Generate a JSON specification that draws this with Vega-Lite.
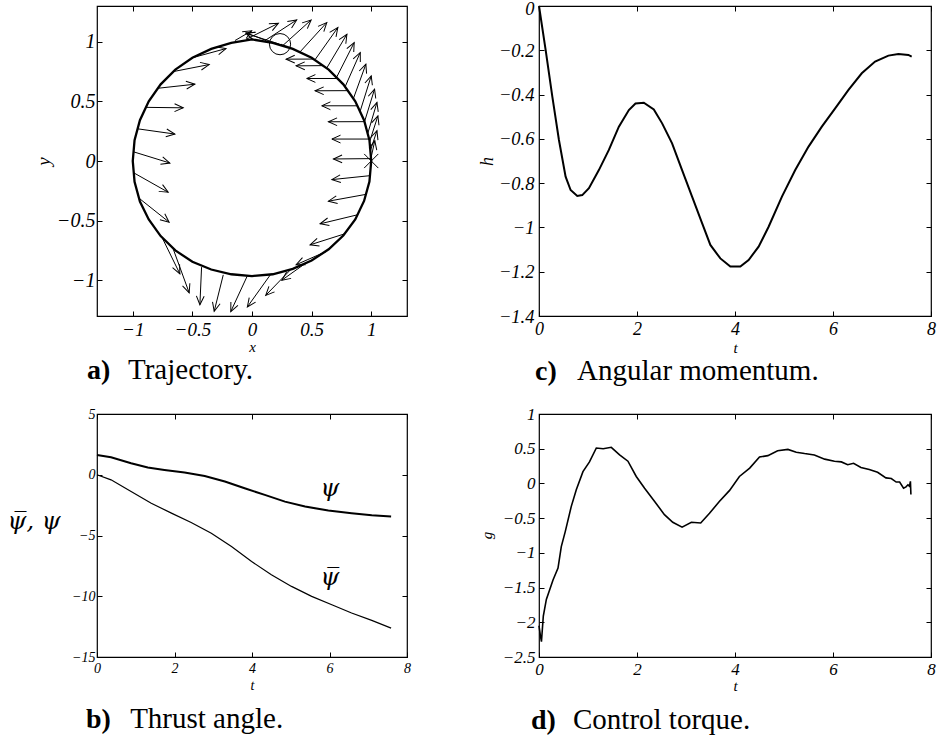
{
"$schema": "https://vega.github.io/schema/vega-lite/v6.json",
"autosize": {"type": "none"},
"padding": {"left": 97, "top": 6, "right": 841, "bottom": 730},
"background": "white",
"config": {
  "font": "Liberation Serif",
  "view": {"stroke": "black", "strokeWidth": 1.2},
  "axis": {"domain": false, "grid": false, "ticks": true, "tickSize": -5, "tickColor": "black", "tickWidth": 1,
    "labelFont": "Liberation Serif", "labelFontStyle": "italic", "labelColor": "black", "labelFlush": false, "labelOverlap": false, "labelBound": false,
    "titleFont": "Liberation Serif", "titleFontStyle": "italic", "titleFontWeight": "normal", "titleColor": "black", "titlePadding": 0},
  "text": {"font": "Liberation Serif", "color": "black"}
},
"datasets": {
  "traj": [
    {"i":0,"x":1.0,"y":0.0},{"i":1,"x":0.985,"y":0.174},{"i":2,"x":0.94,"y":0.342},{"i":3,"x":0.866,"y":0.5},{"i":4,"x":0.766,"y":0.643},{"i":5,"x":0.643,"y":0.766},{"i":6,"x":0.5,"y":0.866},{"i":7,"x":0.342,"y":0.94},{"i":8,"x":0.174,"y":0.99},{"i":9,"x":0.0,"y":1.02},
    {"i":10,"x":-0.174,"y":0.99},{"i":11,"x":-0.342,"y":0.94},{"i":12,"x":-0.5,"y":0.866},{"i":13,"x":-0.643,"y":0.766},{"i":14,"x":-0.766,"y":0.643},{"i":15,"x":-0.866,"y":0.5},{"i":16,"x":-0.94,"y":0.342},{"i":17,"x":-0.985,"y":0.174},{"i":18,"x":-1.0,"y":0.0},
    {"i":19,"x":-0.985,"y":-0.174},{"i":20,"x":-0.94,"y":-0.34},{"i":21,"x":-0.866,"y":-0.49},{"i":22,"x":-0.766,"y":-0.63},{"i":23,"x":-0.643,"y":-0.75},{"i":24,"x":-0.5,"y":-0.845},{"i":25,"x":-0.342,"y":-0.91},{"i":26,"x":-0.174,"y":-0.95},{"i":27,"x":0.0,"y":-0.965},
    {"i":28,"x":0.174,"y":-0.95},{"i":29,"x":0.342,"y":-0.905},{"i":30,"x":0.5,"y":-0.835},{"i":31,"x":0.643,"y":-0.74},{"i":32,"x":0.766,"y":-0.625},{"i":33,"x":0.866,"y":-0.49},{"i":34,"x":0.94,"y":-0.335},{"i":35,"x":0.985,"y":-0.172},{"i":36,"x":1.0,"y":0.0},
    {"i":37,"x":0.985,"y":0.174},{"i":38,"x":0.94,"y":0.342},{"i":39,"x":0.866,"y":0.5},{"i":40,"x":0.766,"y":0.643},{"i":41,"x":0.643,"y":0.766},{"i":42,"x":0.5,"y":0.866},{"i":43,"x":0.342,"y":0.94},{"i":44,"x":0.24,"y":0.975}
  ],
  "arrows": [
    {"x":-0.5,"y":0.866,"x2":-0.218,"y2":0.943},{"x":-0.66,"y":0.75,"x2":-0.359,"y2":0.809},{"x":-0.79,"y":0.61,"x2":-0.479,"y2":0.644},{"x":-0.89,"y":0.45,"x2":-0.577,"y2":0.446},
    {"x":-0.96,"y":0.27,"x2":-0.647,"y2":0.226},{"x":-0.997,"y":0.078,"x2":-0.689,"y2":-0.017},{"x":-0.99,"y":-0.1,"x2":-0.703,"y2":-0.262},{"x":-0.95,"y":-0.31,"x2":-0.695,"y2":-0.513},
    {"x":-0.76,"y":-0.63,"x2":-0.605,"y2":-0.946},{"x":-0.66,"y":-0.74,"x2":-0.527,"y2":-1.105},{"x":-0.423,"y":-0.89,"x2":-0.437,"y2":-1.205},{"x":-0.241,"y":-0.955,"x2":-0.317,"y2":-1.26},
    {"x":-0.04,"y":-0.965,"x2":-0.178,"y2":-1.263},{"x":0.157,"y":-0.95,"x2":-0.039,"y2":-1.224},{"x":0.32,"y":-0.915,"x2":0.115,"y2":-1.127},{"x":0.46,"y":-0.85,"x2":0.25,"y2":-1.0},
    {"x":0.62,"y":-0.76,"x2":0.37,"y2":-0.87},{"x":0.78,"y":-0.61,"x2":0.487,"y2":-0.703},{"x":0.89,"y":-0.45,"x2":0.571,"y2":-0.527},{"x":0.955,"y":-0.28,"x2":0.641,"y2":-0.337},
    {"x":0.99,"y":-0.123,"x2":0.67,"y2":-0.156},{"x":1.0,"y":0.02,"x2":0.683,"y2":0.017},{"x":0.983,"y":0.184,"x2":0.67,"y2":0.184},{"x":0.944,"y":0.33,"x2":0.641,"y2":0.329},
    {"x":0.886,"y":0.463,"x2":0.585,"y2":0.463},{"x":0.808,"y":0.59,"x2":0.529,"y2":0.589},{"x":0.722,"y":0.692,"x2":0.459,"y2":0.692},{"x":0.603,"y":0.8,"x2":0.37,"y2":0.798},{"x":0.52,"y":0.855,"x2":0.286,"y2":0.854},
    {"x":-0.143,"y":1.01,"x2":-0.003,"y2":1.092},{"x":-0.05,"y":1.02,"x2":0.221,"y2":1.155},{"x":0.109,"y":1.01,"x2":0.375,"y2":1.183},{"x":0.26,"y":0.97,"x2":0.496,"y2":1.183},
    {"x":0.403,"y":0.915,"x2":0.627,"y2":1.161},{"x":0.529,"y":0.85,"x2":0.72,"y2":1.119},{"x":0.627,"y":0.78,"x2":0.796,"y2":1.063},{"x":0.711,"y":0.705,"x2":0.857,"y2":0.993},
    {"x":0.782,"y":0.625,"x2":0.908,"y2":0.91},{"x":0.851,"y":0.525,"x2":0.955,"y2":0.812},{"x":0.908,"y":0.42,"x2":1.0,"y2":0.714},{"x":0.944,"y":0.33,"x2":1.028,"y2":0.603},
    {"x":0.972,"y":0.235,"x2":1.048,"y2":0.491},{"x":0.986,"y":0.16,"x2":1.056,"y2":0.379},{"x":0.994,"y":0.09,"x2":1.048,"y2":0.254},{"x":0.999,"y":0.03,"x2":1.03,"y2":0.17},
    {"x":0.23,"y":0.98,"x2":-0.05,"y2":1.07},{"x":0.12,"y":1.01,"x2":-0.05,"y2":1.075}
  ],
  "h": [
    {"t":0,"h":0},{"t":0.136,"h":-0.199},{"t":0.272,"h":-0.409},{"t":0.407,"h":-0.605},{"t":0.543,"h":-0.771},{"t":0.645,"h":-0.831},{"t":0.781,"h":-0.858},{"t":0.883,"h":-0.854},
    {"t":1.019,"h":-0.823},{"t":1.222,"h":-0.741},{"t":1.426,"h":-0.65},{"t":1.63,"h":-0.545},{"t":1.834,"h":-0.47},{"t":1.969,"h":-0.44},{"t":2.139,"h":-0.437},{"t":2.343,"h":-0.467},
    {"t":2.513,"h":-0.53},{"t":2.716,"h":-0.62},{"t":2.92,"h":-0.741},{"t":3.124,"h":-0.861},{"t":3.328,"h":-0.981},{"t":3.497,"h":-1.079},{"t":3.701,"h":-1.14},{"t":3.905,"h":-1.177},
    {"t":4.109,"h":-1.177},{"t":4.278,"h":-1.147},{"t":4.482,"h":-1.087},{"t":4.686,"h":-0.997},{"t":4.958,"h":-0.861},{"t":5.229,"h":-0.741},{"t":5.501,"h":-0.635},{"t":5.772,"h":-0.545},
    {"t":6.044,"h":-0.462},{"t":6.316,"h":-0.379},{"t":6.587,"h":-0.304},{"t":6.859,"h":-0.251},{"t":7.131,"h":-0.224},{"t":7.335,"h":-0.217},{"t":7.538,"h":-0.221},{"t":7.606,"h":-0.229}
  ],
  "psi": [
    {"t":0,"v":1.63},{"t":0.362,"v":1.44},{"t":0.88,"v":0.95},{"t":1.31,"v":0.59},{"t":1.74,"v":0.4},{"t":2.26,"v":0.18},{"t":2.78,"v":-0.1},{"t":3.3,"v":-0.56},
    {"t":3.81,"v":-1.11},{"t":4.33,"v":-1.66},{"t":4.85,"v":-2.21},{"t":5.37,"v":-2.62},{"t":5.97,"v":-2.95},{"t":6.57,"v":-3.16},{"t":7.09,"v":-3.33},{"t":7.59,"v":-3.44}
  ],
  "psibar": [
    {"t":0,"v":0},{"t":0.362,"v":-0.42},{"t":0.88,"v":-1.38},{"t":1.4,"v":-2.34},{"t":1.92,"v":-3.16},{"t":2.43,"v":-3.93},{"t":2.95,"v":-4.81},{"t":3.47,"v":-5.9},
    {"t":3.99,"v":-7.14},{"t":4.5,"v":-8.23},{"t":5.02,"v":-9.19},{"t":5.54,"v":-10.01},{"t":6.06,"v":-10.7},{"t":6.57,"v":-11.38},{"t":7.09,"v":-11.99},{"t":7.59,"v":-12.62}
  ],
  "g": [
    {"t":0,"g":-2.05},{"t":0.03,"g":-2.2},{"t":0.05,"g":-2.28},{"t":0.088,"g":-1.91},{"t":0.15,"g":-1.67},{"t":0.286,"g":-1.39},{"t":0.388,"g":-1.22},{"t":0.455,"g":-0.91},
    {"t":0.537,"g":-0.69},{"t":0.659,"g":-0.33},{"t":0.761,"g":-0.09},{"t":0.897,"g":0.17},{"t":1.03,"g":0.31},{"t":1.17,"g":0.51},{"t":1.31,"g":0.5},{"t":1.475,"g":0.52},
    {"t":1.645,"g":0.41},{"t":1.815,"g":0.32},{"t":1.985,"g":0.1},{"t":2.155,"g":-0.07},{"t":2.36,"g":-0.26},{"t":2.56,"g":-0.45},{"t":2.73,"g":-0.56},{"t":2.92,"g":-0.63},
    {"t":3.11,"g":-0.56},{"t":3.3,"g":-0.57},{"t":3.48,"g":-0.43},{"t":3.68,"g":-0.26},{"t":3.89,"g":-0.1},{"t":4.09,"g":0.1},{"t":4.3,"g":0.22},{"t":4.5,"g":0.38},
    {"t":4.67,"g":0.4},{"t":4.87,"g":0.47},{"t":5.08,"g":0.49},{"t":5.25,"g":0.45},{"t":5.42,"g":0.43},{"t":5.62,"g":0.41},{"t":5.83,"g":0.35},{"t":6.03,"g":0.32},
    {"t":6.17,"g":0.31},{"t":6.3,"g":0.27},{"t":6.42,"g":0.29},{"t":6.57,"g":0.23},{"t":6.74,"g":0.2},{"t":6.91,"g":0.16},{"t":7.08,"g":0.08},{"t":7.19,"g":0.07},
    {"t":7.29,"g":0.02},{"t":7.36,"g":0.02},{"t":7.44,"g":-0.07},{"t":7.49,"g":-0.05},{"t":7.53,"g":-0.02},{"t":7.56,"g":-0.04},{"t":7.58,"g":0.03},{"t":7.59,"g":-0.16}
  ]
},
"concat": [
  {
    "width": 310, "height": 310,
    "resolve": {"axis": {"x": "independent", "y": "independent"}},
    "layer": [
      {"data": {"name": "traj"}, "mark": {"type": "line", "color": "black", "strokeWidth": 2.3},
       "encoding": {
         "x": {"field": "x", "type": "quantitative", "scale": {"domain": [-1.3, 1.3], "nice": false, "zero": false},
               "axis": {"values": [-1, -0.5, 0, 0.5, 1], "format": "~g", "labelFontSize": 19, "labelPadding": 9, "title": "x", "titleFontSize": 15, "titleX": 155, "titleY": 35, "titleAlign": "center", "titleBaseline": "alphabetic"}},
         "y": {"field": "y", "type": "quantitative", "scale": {"domain": [-1.3, 1.3], "nice": false, "zero": false},
               "axis": {"values": [-1, -0.5, 0, 0.5, 1], "format": "~g", "labelFontSize": 20, "labelPadding": 7, "title": "y", "titleFontSize": 19, "titleX": -48, "titleY": 155, "titleAngle": 270, "titleAlign": "center", "titleBaseline": "alphabetic"}},
         "order": {"field": "i", "type": "quantitative"}
       }},
      {"data": {"name": "arrows"}, "mark": {"type": "rule", "color": "black", "strokeWidth": 1},
       "encoding": {
         "x": {"field": "x", "type": "quantitative", "axis": {"orient": "top", "values": [-1, -0.5, 0, 0.5, 1], "labels": false, "title": null}},
         "y": {"field": "y", "type": "quantitative", "axis": {"orient": "right", "values": [-1, -0.5, 0, 0.5, 1], "labels": false, "title": null}},
         "x2": {"field": "x2"}, "y2": {"field": "y2"}
       }},
      {"data": {"name": "arrows"}, "transform": [{"calculate": "atan2(datum.y - datum.y2, datum.x2 - datum.x) * 180 / PI", "as": "ang"}],
       "mark": {"type": "point", "shape": "M-1,-0.45L0,0L-1,0.45", "filled": false, "stroke": "black", "strokeWidth": 1, "size": 300, "opacity": 1},
       "encoding": {
         "x": {"field": "x2", "type": "quantitative", "axis": null},
         "y": {"field": "y2", "type": "quantitative", "axis": null},
         "angle": {"field": "ang", "type": "quantitative", "scale": null}
       }},
      {"data": {"values": [{"x": 1.0, "y": 0.0}]}, "mark": {"type": "point", "shape": "M-1,-1L1,1M-1,1L1,-1", "filled": false, "stroke": "black", "strokeWidth": 1, "size": 200, "opacity": 1},
       "encoding": {"x": {"field": "x", "type": "quantitative", "axis": null}, "y": {"field": "y", "type": "quantitative", "axis": null}}},
      {"data": {"values": [{"x": 0.235, "y": 0.98}]}, "mark": {"type": "point", "shape": "circle", "filled": false, "stroke": "black", "strokeWidth": 1, "size": 450, "opacity": 1},
       "encoding": {"x": {"field": "x", "type": "quantitative", "axis": null}, "y": {"field": "y", "type": "quantitative", "axis": null}}},
      {"data": {"values": [{}]}, "mark": {"type": "text", "text": "a)", "fontWeight": "bold", "fontSize": 28, "align": "left", "baseline": "alphabetic"},
       "encoding": {"x": {"datum": -1.384, "type": "quantitative", "axis": null}, "y": {"datum": -1.83, "type": "quantitative", "axis": null}}},
      {"data": {"values": [{}]}, "mark": {"type": "text", "text": "Trajectory.", "fontSize": 29, "align": "left", "baseline": "alphabetic"},
       "encoding": {"x": {"datum": -1.04, "type": "quantitative", "axis": null}, "y": {"datum": -1.83, "type": "quantitative", "axis": null}}}
    ]
  },
  {
    "width": 392, "height": 310,
    "resolve": {"axis": {"x": "independent", "y": "independent"}},
    "layer": [
      {"data": {"name": "h"}, "mark": {"type": "line", "color": "black", "strokeWidth": 2},
       "encoding": {
         "x": {"field": "t", "type": "quantitative", "scale": {"domain": [0, 8], "nice": false, "zero": false},
               "axis": {"values": [0, 2, 4, 6, 8], "format": "~g", "labelFontSize": 18, "labelPadding": 9, "title": "t", "titleFontSize": 15, "titleX": 196, "titleY": 36, "titleAlign": "center", "titleBaseline": "alphabetic"}},
         "y": {"field": "h", "type": "quantitative", "scale": {"domain": [-1.4, 0], "nice": false, "zero": false},
               "axis": {"values": [0, -0.2, -0.4, -0.6, -0.8, -1, -1.2, -1.4], "format": "~g", "labelFontSize": 18.5, "labelPadding": 10,
                        "labelOffset": {"condition": {"test": "datum.value == 0", "value": 2}, "value": 0},
                        "title": "h", "titleFontSize": 18, "titleX": -47, "titleY": 155, "titleAngle": 270, "titleAlign": "center", "titleBaseline": "alphabetic"}}
       }},
      {"data": {"name": "h"}, "mark": {"type": "line", "opacity": 0},
       "encoding": {
         "x": {"field": "t", "type": "quantitative", "axis": {"orient": "top", "values": [0, 2, 4, 6, 8], "labels": false, "title": null}},
         "y": {"field": "h", "type": "quantitative", "axis": {"orient": "right", "values": [0, -0.2, -0.4, -0.6, -0.8, -1, -1.2, -1.4], "labels": false, "title": null}}
       }},
      {"data": {"values": [{}]}, "mark": {"type": "text", "text": "c)", "fontWeight": "bold", "fontSize": 28, "align": "left", "baseline": "alphabetic"},
       "encoding": {"x": {"datum": -0.08, "type": "quantitative", "axis": null}, "y": {"datum": -1.69, "type": "quantitative", "axis": null}}},
      {"data": {"values": [{}]}, "mark": {"type": "text", "text": "Angular momentum.", "fontSize": 29, "align": "left", "baseline": "alphabetic"},
       "encoding": {"x": {"datum": 0.776, "type": "quantitative", "axis": null}, "y": {"datum": -1.69, "type": "quantitative", "axis": null}}}
    ]
  },
  {
    "width": 310, "height": 243,
    "resolve": {"axis": {"x": "independent", "y": "independent"}},
    "layer": [
      {"data": {"name": "psi"}, "mark": {"type": "line", "color": "black", "strokeWidth": 2},
       "encoding": {
         "x": {"field": "t", "type": "quantitative", "scale": {"domain": [0, 8], "nice": false, "zero": false},
               "axis": {"values": [0, 2, 4, 6, 8], "format": "~g", "labelFontSize": 14, "labelPadding": 9, "title": "t", "titleFontSize": 14, "titleX": 155, "titleY": 32, "titleAlign": "center", "titleBaseline": "alphabetic"}},
         "y": {"field": "v", "type": "quantitative", "scale": {"domain": [-15, 5], "nice": false, "zero": false},
               "axis": {"values": [5, 0, -5, -10, -15], "format": "~g", "labelFontSize": 14, "labelPadding": 7, "title": "ψ̅, ψ", "titleFont": "DejaVu Serif", "titleFontSize": 24, "titleFontStyle": "italic", "titleX": -37, "titleY": 114, "titleAngle": 0, "titleAlign": "right", "titleBaseline": "alphabetic"}}
       }},
      {"data": {"name": "psibar"}, "mark": {"type": "line", "color": "black", "strokeWidth": 1.2},
       "encoding": {
         "x": {"field": "t", "type": "quantitative", "axis": {"orient": "top", "values": [0, 2, 4, 6, 8], "labels": false, "title": null}},
         "y": {"field": "v", "type": "quantitative", "axis": {"orient": "right", "values": [5, 0, -5, -10, -15], "labels": false, "title": null}}
       }},
      {"data": {"values": [{}]}, "mark": {"type": "text", "text": "ψ", "font": "DejaVu Serif", "fontSize": 24, "fontStyle": "italic", "align": "center", "baseline": "alphabetic"},
       "encoding": {"x": {"datum": 6.01, "type": "quantitative", "axis": null}, "y": {"datum": -1.79, "type": "quantitative", "axis": null}}},
      {"data": {"values": [{}]}, "mark": {"type": "text", "text": "ψ̅", "font": "DejaVu Serif", "fontSize": 24, "fontStyle": "italic", "align": "center", "baseline": "alphabetic"},
       "encoding": {"x": {"datum": 6.01, "type": "quantitative", "axis": null}, "y": {"datum": -9.05, "type": "quantitative", "axis": null}}},
      {"data": {"values": [{}]}, "mark": {"type": "text", "text": "b)", "fontWeight": "bold", "fontSize": 28, "align": "left", "baseline": "alphabetic"},
       "encoding": {"x": {"datum": -0.285, "type": "quantitative", "axis": null}, "y": {"datum": -20.84, "type": "quantitative", "axis": null}}},
      {"data": {"values": [{}]}, "mark": {"type": "text", "text": "Thrust angle.", "fontSize": 29, "align": "left", "baseline": "alphabetic"},
       "encoding": {"x": {"datum": 0.855, "type": "quantitative", "axis": null}, "y": {"datum": -20.84, "type": "quantitative", "axis": null}}}
    ]
  },
  {
    "width": 392, "height": 243,
    "resolve": {"axis": {"x": "independent", "y": "independent"}},
    "layer": [
      {"data": {"name": "g"}, "mark": {"type": "line", "color": "black", "strokeWidth": 1.6},
       "encoding": {
         "x": {"field": "t", "type": "quantitative", "scale": {"domain": [0, 8], "nice": false, "zero": false},
               "axis": {"values": [0, 2, 4, 6, 8], "format": "~g", "labelFontSize": 17, "labelPadding": 9, "title": "t", "titleFontSize": 15, "titleX": 196, "titleY": 33, "titleAlign": "center", "titleBaseline": "alphabetic"}},
         "y": {"field": "g", "type": "quantitative", "scale": {"domain": [-2.5, 1], "nice": false, "zero": false},
               "axis": {"values": [1, 0.5, 0, -0.5, -1, -1.5, -2, -2.5], "format": "~g", "labelFontSize": 17, "labelPadding": 9, "title": "g", "titleFontSize": 15, "titleX": -48, "titleY": 121, "titleAngle": 270, "titleAlign": "center", "titleBaseline": "alphabetic"}}
       }},
      {"data": {"name": "g"}, "mark": {"type": "line", "opacity": 0},
       "encoding": {
         "x": {"field": "t", "type": "quantitative", "axis": {"orient": "top", "values": [0, 2, 4, 6, 8], "labels": false, "title": null}},
         "y": {"field": "g", "type": "quantitative", "axis": {"orient": "right", "values": [1, 0.5, 0, -0.5, -1, -1.5, -2, -2.5], "labels": false, "title": null}}
       }},
      {"data": {"values": [{}]}, "mark": {"type": "text", "text": "d)", "fontWeight": "bold", "fontSize": 28, "align": "left", "baseline": "alphabetic"},
       "encoding": {"x": {"datum": -0.163, "type": "quantitative", "axis": null}, "y": {"datum": -3.53, "type": "quantitative", "axis": null}}},
      {"data": {"values": [{}]}, "mark": {"type": "text", "text": "Control torque.", "fontSize": 29, "align": "left", "baseline": "alphabetic"},
       "encoding": {"x": {"datum": 0.694, "type": "quantitative", "axis": null}, "y": {"datum": -3.53, "type": "quantitative", "axis": null}}}
    ]
  }
],
"columns": 2,
"spacing": {"row": 98, "column": 132},
"bounds": "flush",
"align": "each"
}
